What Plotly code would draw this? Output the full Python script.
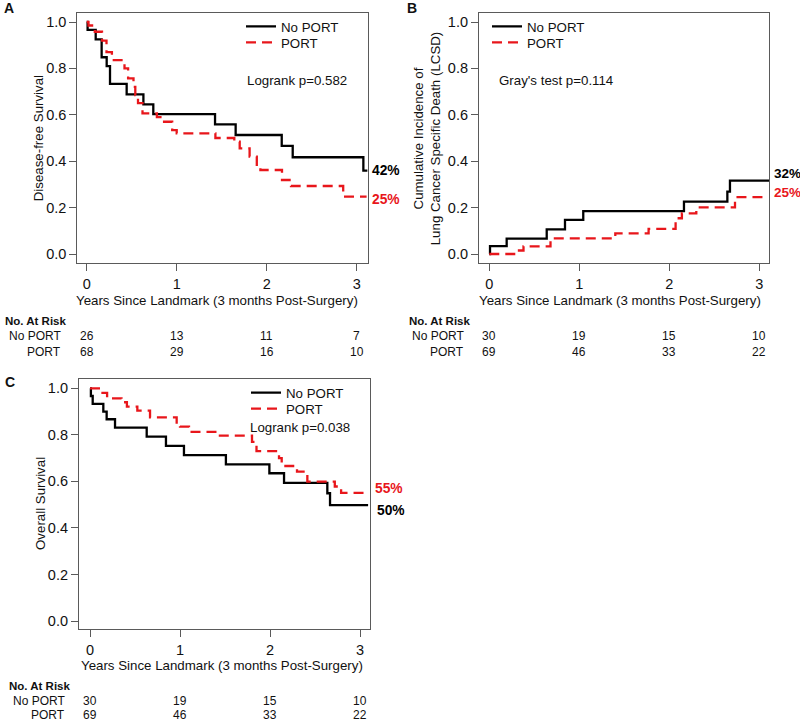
import plotly.graph_objects as go

# ---------------- data ----------------
# Panel A: Disease-free survival
a_noport_t = [0, 0.01, 0.10, 0.166, 0.222, 0.259, 0.444, 0.63, 0.74, 1.426, 1.655, 2.167, 2.289, 3.074, 3.12]
a_noport_s = [1.0, 0.966, 0.925, 0.848, 0.81, 0.733, 0.688, 0.645, 0.603, 0.559, 0.513, 0.466, 0.417, 0.359, 0.359]
a_port_t = [0, 0.02, 0.09, 0.17, 0.22, 0.28, 0.42, 0.46, 0.52, 0.54, 0.57, 0.62, 0.78, 0.84, 0.95, 1.0,
            1.43, 1.64, 1.70, 1.81, 1.89, 1.93, 2.17, 2.27, 2.85, 3.11]
a_port_s = [1.0, 0.985, 0.958, 0.92, 0.87, 0.836, 0.80, 0.757, 0.72, 0.685, 0.65, 0.606, 0.59, 0.57, 0.534, 0.52,
            0.50, 0.484, 0.455, 0.42, 0.376, 0.362, 0.319, 0.293, 0.247, 0.247]

# Panel B: Cumulative incidence of LCSD
b_noport_t = [0, 0.008, 0.193, 0.638, 0.841, 1.044, 2.163, 2.645, 2.674, 3.11]
b_noport_s = [0, 0.034, 0.066, 0.106, 0.147, 0.185, 0.226, 0.269, 0.316, 0.316]
b_port_t = [0, 0.30, 0.38, 0.68, 1.40, 1.77, 2.07, 2.14, 2.30, 2.73, 3.04]
b_port_s = [0, 0.015, 0.033, 0.067, 0.089, 0.108, 0.154, 0.175, 0.201, 0.245, 0.245]

# Panel C: Overall survival
c_noport_t = [0, 0.01, 0.03, 0.148, 0.185, 0.278, 0.63, 0.844, 1.044, 1.51, 1.993, 2.156, 2.637, 2.667, 3.09]
c_noport_s = [1.0, 0.967, 0.933, 0.90, 0.867, 0.831, 0.792, 0.753, 0.713, 0.673, 0.635, 0.594, 0.549, 0.498, 0.498]
c_port_t = [0, 0.12, 0.19, 0.35, 0.41, 0.526, 0.667, 0.963, 1.0, 1.1, 1.426, 1.80, 1.85, 2.10, 2.13, 2.30,
            2.415, 2.72, 2.79, 3.04]
c_port_s = [1.0, 0.98, 0.957, 0.94, 0.921, 0.904, 0.875, 0.842, 0.835, 0.813, 0.797, 0.77, 0.73, 0.70, 0.666,
            0.642, 0.599, 0.578, 0.551, 0.551]

risk_times = [0, 1, 2, 3]
a_risk_noport = [26, 13, 11, 7]
a_risk_port = [68, 29, 16, 10]
b_risk_noport = [30, 19, 15, 10]
b_risk_port = [69, 46, 33, 22]
c_risk_noport = [30, 19, 15, 10]
c_risk_port = [69, 46, 33, 22]

y_ticks = [0.0, 0.2, 0.4, 0.6, 0.8, 1.0]
x_ticks = [0, 1, 2, 3]
group_names = ["No PORT", "PORT"]
end_labels_a = ["42%", "25%"]
end_labels_b = ["32%", "25%"]
end_labels_c = ["50%", "55%"]

# ---------------- styling ----------------
W, H = 800, 723
FONT = "Liberation Sans, Arial, sans-serif"
NARROW = "Liberation Sans Narrow, Arial Narrow, Liberation Sans, Arial, sans-serif"
FS = 13.3
TFS = 14.5
RFS = 12
BLACK = "#000000"
RED = "#e8161b"
BOX = "#5a5a5a"


def fx(px):
    return px / W


def fy(py):
    return 1 - py / H


fig = go.Figure()

panels = [
    # (xaxis, yaxis, legends, box px (l,t,r,b), x0px, x3px, y1px, y0px)
    ("x", "y", ("legend", "legend2"), (77.3, 13.3, 367.7, 263.3), 86.7, 356.7, 22.0, 254.0),
    ("x2", "y2", ("legend3", "legend4"), (479.0, 13.3, 769.3, 263.3), 489.3, 759.3, 22.0, 254.0),
    ("x3", "y3", ("legend5", "legend6"), (79.0, 379.0, 370.0, 629.0), 90.0, 360.0, 388.3, 621.0),
]
series = [
    (a_noport_t, a_noport_s, a_port_t, a_port_s),
    (b_noport_t, b_noport_s, b_port_t, b_port_s),
    (c_noport_t, c_noport_s, c_port_t, c_port_s),
]

for (xa, ya, lgs, box, x0, x3, y1, y0), (nt, ns, pt, ps) in zip(panels, series):
    fig.add_trace(go.Scatter(x=nt, y=ns, mode="lines", line=dict(color=BLACK, width=2.3, shape="hv"),
                             name=group_names[0], xaxis=xa, yaxis=ya, legend=lgs[0]))
    fig.add_trace(go.Scatter(x=pt, y=ps, mode="lines",
                             line=dict(color=RED, width=2.3, shape="hv", dash="10px,6px"),
                             name=group_names[1], xaxis=xa, yaxis=ya, legend=lgs[1]))

layout_axes = {}
for i, (xa, ya, lgs, box, x0, x3, y1, y0) in enumerate(panels):
    l, t, r, b = box
    ppx = (x3 - x0) / 3.0
    ppy = (y0 - y1)
    xr = [(l - x0) / ppx, (r - x0) / ppx]
    yr = [(y0 - b) / ppy, (y0 - t) / ppy]
    xname = "xaxis" if xa == "x" else "xaxis" + xa[1:]
    yname = "yaxis" if ya == "y" else "yaxis" + ya[1:]
    common = dict(showgrid=False, zeroline=False, showline=True, linecolor=BOX, linewidth=1.2, mirror=True,
                  ticks="outside", ticklen=7, tickwidth=1.2, tickcolor=BOX, automargin=False,
                  tickfont=dict(family=FONT, size=TFS, color="#111"), fixedrange=True)
    layout_axes[xname] = dict(common, domain=[fx(l), fx(r)], range=xr, tickvals=x_ticks,
                              anchor=ya)
    layout_axes[yname] = dict(common, domain=[fy(b), fy(t)], range=yr, tickvals=y_ticks,
                              tickformat=".1f", anchor=xa)

fig.update_layout(**layout_axes)

# legend rows: (x px of key start, y px of row centre)
legend_rows = [(246, 26.7), (246, 42.7), (492, 26.7), (492, 42.7), (251, 393), (251, 409)]
legend_common = dict(xanchor="left", yanchor="middle", bgcolor="rgba(0,0,0,0)", borderwidth=0,
                     font=dict(family=FONT, size=FS, color="#111"), tracegroupgap=0, itemwidth=30)
leg_layout = {}
for k, (lx, ly) in enumerate(legend_rows):
    name = "legend" if k == 0 else "legend%d" % (k + 1)
    leg_layout[name] = dict(legend_common, x=fx(lx - 5), y=fy(ly))
fig.update_layout(**leg_layout)

ann = []


def text(px, py, s, xanchor="left", size=FS, color="#111", bold=False, family=FONT, angle=0):
    ann.append(dict(x=fx(px), y=fy(py), xref="paper", yref="paper", text=("<b>%s</b>" % s) if bold else s,
                    showarrow=False, xanchor=xanchor, yanchor="middle", textangle=angle,
                    font=dict(family=family, size=size, color=color)))


# panel letters
text(2, 8, "A", bold=True, size=14)
text(405, 8, "B", bold=True, size=14)
text(3, 382, "C", bold=True, size=14)

# test statistics
text(245, 80, "Logrank p=0.582")
text(497, 80, "Gray's test p=0.114")
text(248, 427.7, "Logrank p=0.038")

# end labels
text(370, 170, end_labels_a[0], bold=True, color=BLACK, size=13.8)
text(370, 199, end_labels_a[1], bold=True, color=RED, size=13.8)
text(772, 173, end_labels_b[0], bold=True, color=BLACK, size=13.5)
text(772, 193, end_labels_b[1], bold=True, color=RED, size=13.5)
text(375, 510, end_labels_c[0], bold=True, color=BLACK, size=13.8)
text(373, 488, end_labels_c[1], bold=True, color=RED, size=13.8)

# axis titles
xt = "Years Since Landmark (3 months Post-Surgery)"
text(217, 300, xt, xanchor="center")
text(620, 300, xt, xanchor="center")
text(222, 665, xt, xanchor="center")
text(38, 138.3, "Disease-free Survival", xanchor="center", angle=-90)
text(427, 138.3, "Cumulative Incidence of<br>Lung Cancer Specific Death (LCSD)", xanchor="center", angle=-90)
text(40, 504, "Overall Survival", xanchor="center", angle=-90)

# risk tables
tables = [
    ("x", 3.3, 320.7, 336, 352, 63.3, a_risk_noport, a_risk_port),
    ("x2", 407, 320.7, 336, 352, 466, b_risk_noport, b_risk_port),
    ("x3", 6.7, 685.5, 700.5, 715, 66.7, c_risk_noport, c_risk_port),
]
for xa, hx, hy, r1, r2, lx, n1, n2 in tables:
    text(hx, hy, "No. At Risk", bold=True, family=NARROW, size=11.5)
    text(lx, r1, group_names[0], xanchor="right", family=NARROW, size=RFS)
    text(lx, r2, group_names[1], xanchor="right", family=NARROW, size=RFS)
    for tt, v1, v2 in zip(risk_times, n1, n2):
        for yy, v in ((r1, v1), (r2, v2)):
            ann.append(dict(x=tt, y=fy(yy), xref=xa, yref="paper", text=str(v), showarrow=False,
                            xanchor="center", yanchor="middle",
                            font=dict(family=NARROW, size=RFS, color="#111")))

fig.update_layout(annotations=ann, width=W, height=H, autosize=False,
                  margin=dict(l=0, r=0, t=0, b=0, autoexpand=False), paper_bgcolor="white",
                  plot_bgcolor="white", showlegend=True)

fig.write_html("out.html", config={"displayModeBar": False},
               post_script="document.body.style.margin='0';document.body.style.padding='0';"
                           "document.body.style.overflow='hidden';")
